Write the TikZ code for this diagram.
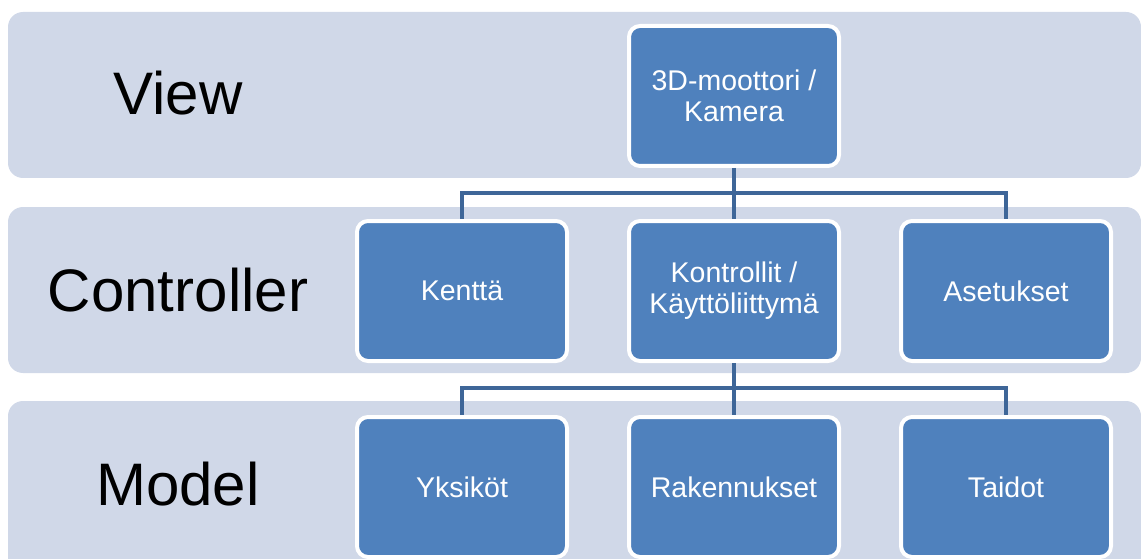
\documentclass[tikz,border=0pt]{standalone}
\usepackage{fontspec}
\setmainfont{Liberation Sans}
\definecolor{bandfill}{RGB}{208,216,232}
\definecolor{boxfill}{RGB}{79,129,189}
\definecolor{connc}{RGB}{62,102,152}
\begin{document}
\begin{tikzpicture}[x=1pt,y=-1pt,
  band/.style={fill=bandfill,rounded corners=15pt},
  bandlabel/.style={font=\fontsize{60}{66}\selectfont,text=black,anchor=center},
  bluebox/.style={draw=white,line width=4pt,fill=boxfill,rounded corners=11pt,
    minimum width=210pt,minimum height=140pt,inner sep=0pt,text=white,align=center,
    font=\fontsize{28.5}{31}\selectfont},
  conn/.style={draw=connc,line width=4pt}]
\useasboundingbox (0,0) rectangle (1141,559);
\begin{scope}
\clip (0,0) rectangle (1141,559);
\fill[band] (8,12) rectangle (1141,178);
\fill[band] (8,207) rectangle (1141,373);
\fill[band] (8,401) rectangle (1141,600);
\node[bandlabel] (lview) at (178,93) {View};
\node[bandlabel] (lctrl) at (178,290) {Controller};
\node[bandlabel] (lmodel) at (178,484) {Model};
\node[bluebox] (top) at (734,96) {3D-moottori /\\Kamera};
\node[bluebox] (kentta) at (462,291) {Kenttä};
\node[bluebox] (kontrollit) at (734,291) {Kontrollit /\\Käyttöliittymä};
\node[bluebox] (asetukset) at (1006,291) {Asetukset};
\node[bluebox] (yksikot) at (462,487) {Yksiköt};
\node[bluebox] (rakennukset) at (734,487) {Rakennukset};
\node[bluebox] (taidot) at (1006,487) {Taidot};
\coordinate (j1) at (734,193);
\coordinate (j2) at (734,388);
\draw[conn] (top.south) -- (j1);
\draw[conn] (j1) -| (kentta.north);
\draw[conn] (j1) -| (asetukset.north);
\draw[conn] (j1) -- (kontrollit.north);
\draw[conn] (kontrollit.south) -- (j2);
\draw[conn] (j2) -| (yksikot.north);
\draw[conn] (j2) -| (taidot.north);
\draw[conn] (j2) -- (rakennukset.north);
\end{scope}
\end{tikzpicture}
\end{document}
